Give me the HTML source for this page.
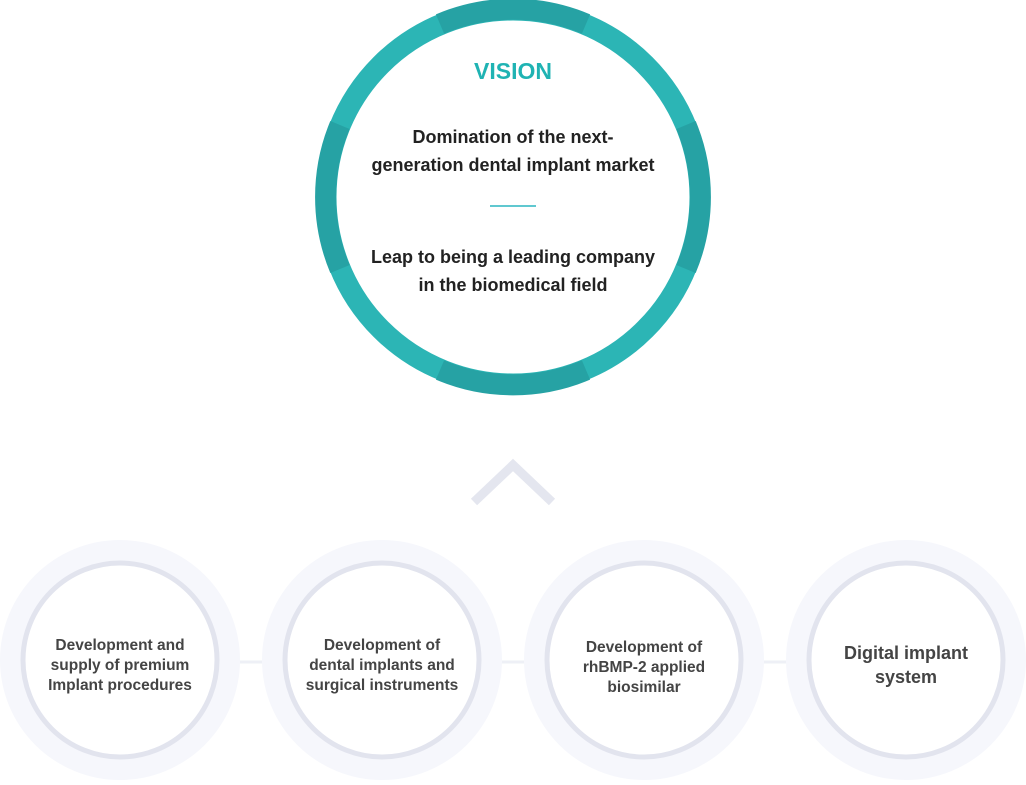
<!DOCTYPE html>
<html><head><style>
body{margin:0;background:#fff;}
svg text{font-family:"Liberation Sans","DejaVu Sans",sans-serif;font-weight:bold;text-anchor:middle;}
</style></head><body>
<svg width="1026" height="780" viewBox="0 0 1026 780" xmlns="http://www.w3.org/2000/svg">
<!-- bottom connectors -->
<line x1="120" y1="662" x2="906" y2="662" stroke="#eef0f6" stroke-width="3"/>
<g fill="#f6f7fc">
<circle cx="120" cy="660" r="120"/><circle cx="382" cy="660" r="120"/><circle cx="644" cy="660" r="120"/><circle cx="906" cy="660" r="120"/>
</g>
<g fill="#fff" stroke="#e2e4ee" stroke-width="5">
<circle cx="120" cy="660" r="97"/><circle cx="382" cy="660" r="97"/><circle cx="644" cy="660" r="97"/><circle cx="906" cy="660" r="97"/>
</g>
<g fill="#444" font-size="15.5">
<text x="120" y="650">Development and</text><text x="120" y="670">supply of premium</text><text x="120" y="690">Implant procedures</text>
<text x="382" y="650">Development of</text><text x="382" y="670">dental implants and</text><text x="382" y="690">surgical instruments</text>
<text x="644" y="652">Development of</text><text x="644" y="672">rhBMP-2 applied</text><text x="644" y="692">biosimilar</text>
<text x="906" y="659" font-size="18">Digital implant</text><text x="906" y="683" font-size="18">system</text>
</g>
<!-- chevron -->
<polyline points="474,502 513,465 552,502" fill="none" stroke="#e4e6ef" stroke-width="9"/>
<!-- top circle -->
<circle cx="513" cy="197" r="187" fill="#fff" stroke="#2cb5b5" stroke-width="21"/>
<g fill="none" stroke="#26a2a4" stroke-width="21">
<path d="M 440 24 A 187 187 0 0 1 586 24"/>
<path d="M 440 370 A 187 187 0 0 0 586 370"/>
<path d="M 340 125 A 187 187 0 0 0 340 269"/>
<path d="M 686 125 A 187 187 0 0 1 686 269"/>
</g>
<text x="513" y="79" fill="#1fb3b3" font-size="23">VISION</text>
<g fill="#222" font-size="18">
<text x="513" y="143">Domination of the next-</text>
<text x="513" y="171">generation dental  implant market</text>
<text x="513" y="263">Leap to being a leading company</text>
<text x="513" y="291">in the biomedical field</text>
</g>
<line x1="490" y1="206" x2="536" y2="206" stroke="#2cb5c0" stroke-width="1.5"/>
</svg>
</body></html>
